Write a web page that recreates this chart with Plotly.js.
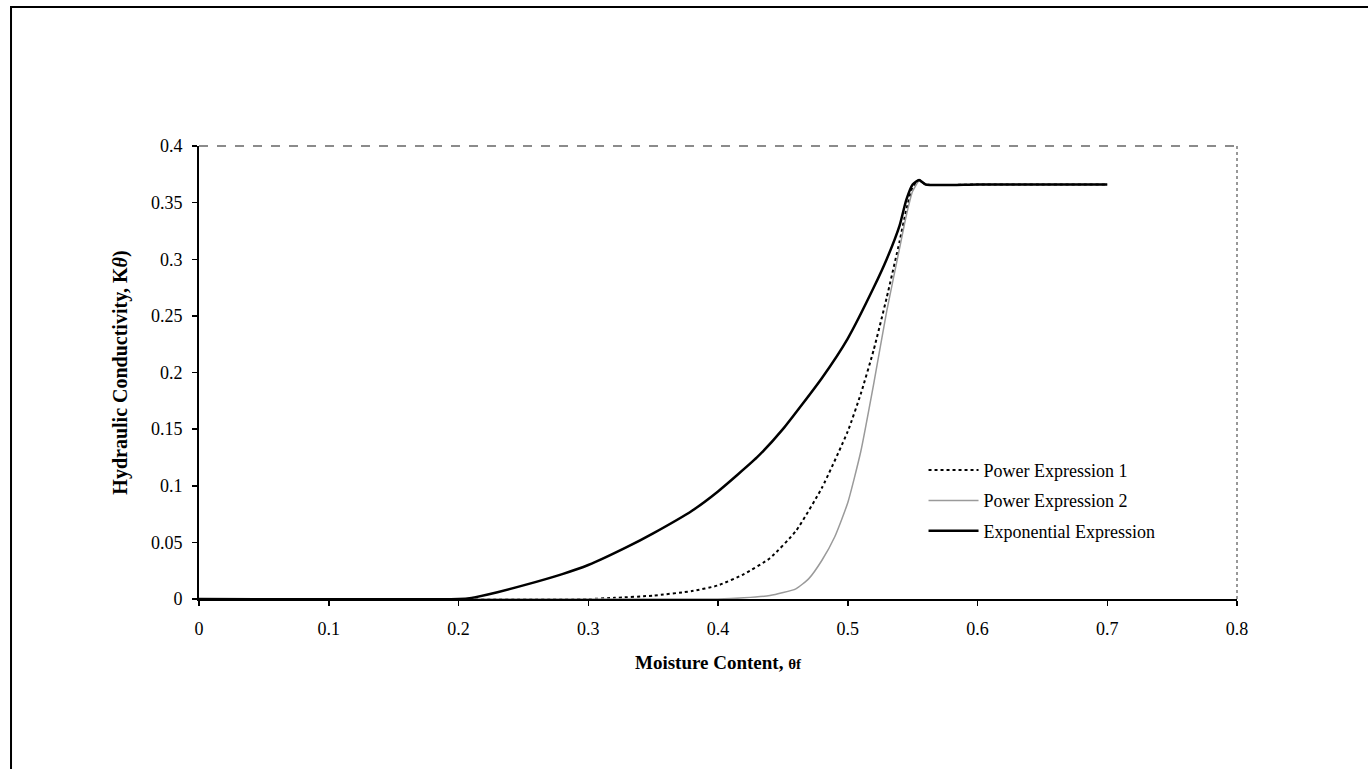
<!DOCTYPE html>
<html>
<head>
<meta charset="utf-8">
<script src="https://cdn.plot.ly/plotly-3.0.1.min.js"></script>
<style>html,body{margin:0;padding:0;background:#fff;}#chart{width:1368px;height:769px;}</style>
</head>
<body>
<div id="chart"></div>
<script>
// Data
const thetaPower1 = [0, 0.30, 0.32, 0.35, 0.38, 0.40, 0.42, 0.44, 0.46, 0.48, 0.50, 0.51, 0.52, 0.53, 0.54, 0.545, 0.55, 0.555, 0.56, 0.60, 0.70];
const kPower1     = [0, 0, 0.001, 0.003, 0.007, 0.012, 0.022, 0.036, 0.060, 0.098, 0.148, 0.181, 0.220, 0.266, 0.316, 0.343, 0.364, 0.370, 0.366, 0.366, 0.366];

const thetaPower2 = [0, 0.40, 0.42, 0.44, 0.46, 0.47, 0.48, 0.49, 0.50, 0.51, 0.52, 0.53, 0.54, 0.545, 0.55, 0.555, 0.56, 0.60, 0.70];
const kPower2     = [0, 0, 0.001, 0.003, 0.009, 0.018, 0.034, 0.055, 0.085, 0.130, 0.190, 0.254, 0.310, 0.338, 0.360, 0.369, 0.366, 0.366, 0.366];

const thetaExp = [0, 0.20, 0.21, 0.23, 0.25, 0.28, 0.30, 0.33, 0.35, 0.38, 0.40, 0.43, 0.45, 0.48, 0.50, 0.52, 0.53, 0.54, 0.545, 0.55, 0.555, 0.56, 0.60, 0.70];
const kExp     = [0, 0, 0.001, 0.006, 0.012, 0.022, 0.030, 0.046, 0.058, 0.078, 0.095, 0.125, 0.150, 0.195, 0.230, 0.275, 0.300, 0.330, 0.352, 0.366, 0.370, 0.366, 0.366, 0.366];

const seriesNames = ['Power Expression 1', 'Power Expression 2', 'Exponential Expression'];
const xTicks = [0, 0.1, 0.2, 0.3, 0.4, 0.5, 0.6, 0.7, 0.8];
const yTicks = [0, 0.05, 0.1, 0.15, 0.2, 0.25, 0.3, 0.35, 0.4];

const serif = 'Liberation Serif, Times New Roman, serif';

const traces = [
  {x: thetaPower1, y: kPower1, name: seriesNames[0], legendgroup: 'a', mode: 'lines', line: {color: '#000', width: 2, dash: 'dot', shape: 'spline', smoothing: 0.5}},
  {x: thetaPower2, y: kPower2, name: seriesNames[1], legendgroup: 'b', mode: 'lines', line: {color: '#9a9a9a', width: 1.5, shape: 'spline', smoothing: 0.5}},
  {x: thetaExp, y: kExp, name: seriesNames[2], legendgroup: 'c', mode: 'lines', line: {color: '#000', width: 2.5, shape: 'spline', smoothing: 0.5}}
];

const layout = {
  width: 1368, height: 769,
  margin: {l: 199, r: 131, t: 146, b: 170},
  paper_bgcolor: '#fff', plot_bgcolor: '#fff',
  font: {family: serif, color: '#000', size: 18},
  showlegend: true,
  legend: {x: 0.698, y: 0.325, xanchor: 'left', yanchor: 'top', bgcolor: 'rgba(0,0,0,0)', borderwidth: 0,
           font: {family: serif, size: 18, color: '#000'}, tracegroupgap: 4, itemwidth: 50},
  xaxis: {
    range: [0, 0.8], tickvals: xTicks, ticktext: xTicks.map(String),
    showgrid: false, zeroline: false, showline: true, linecolor: '#000', linewidth: 2,
    ticks: 'outside', ticklen: 5, tickcolor: '#000', tickwidth: 1.5, ticklabelstandoff: 7,
    tickfont: {family: serif, size: 18, color: '#000'},
    title: {text: '<b>Moisture Content, </b><b style="font-size:15px">θf</b>', font: {family: serif, size: 19, color: '#000'}, standoff: 18}
  },
  yaxis: {
    range: [0, 0.4], tickvals: yTicks, ticktext: yTicks.map(String),
    showgrid: false, zeroline: false, showline: true, linecolor: '#000', linewidth: 2,
    ticks: 'outside', ticklen: 5, tickcolor: '#000', tickwidth: 1.5, ticklabelstandoff: 6,
    tickfont: {family: serif, size: 18, color: '#000'},
    title: {text: '<b>Hydraulic Conductivity, K<i>θ</i>)</b>', font: {family: serif, size: 20, color: '#000'}, standoff: 18}
  },
  shapes: [
    {type: 'line', xref: 'paper', yref: 'paper', x0: 0, x1: 1, y0: 1, y1: 1, line: {color: '#666', width: 1.5, dash: 'dash'}},
    {type: 'line', xref: 'paper', yref: 'paper', x0: 1, x1: 1, y0: 0, y1: 1, line: {color: '#777', width: 1.5, dash: 'dot'}},
    {type: 'rect', xref: 'paper', yref: 'paper', x0: -0.1811, x1: 1.13, y0: -0.39, y1: 1.307, line: {color: '#000', width: 2}, fillcolor: 'rgba(0,0,0,0)', layer: 'below'}
  ]
};

Plotly.newPlot('chart', traces, layout, {displayModeBar: false, staticPlot: true});
</script>
</body>
</html>
